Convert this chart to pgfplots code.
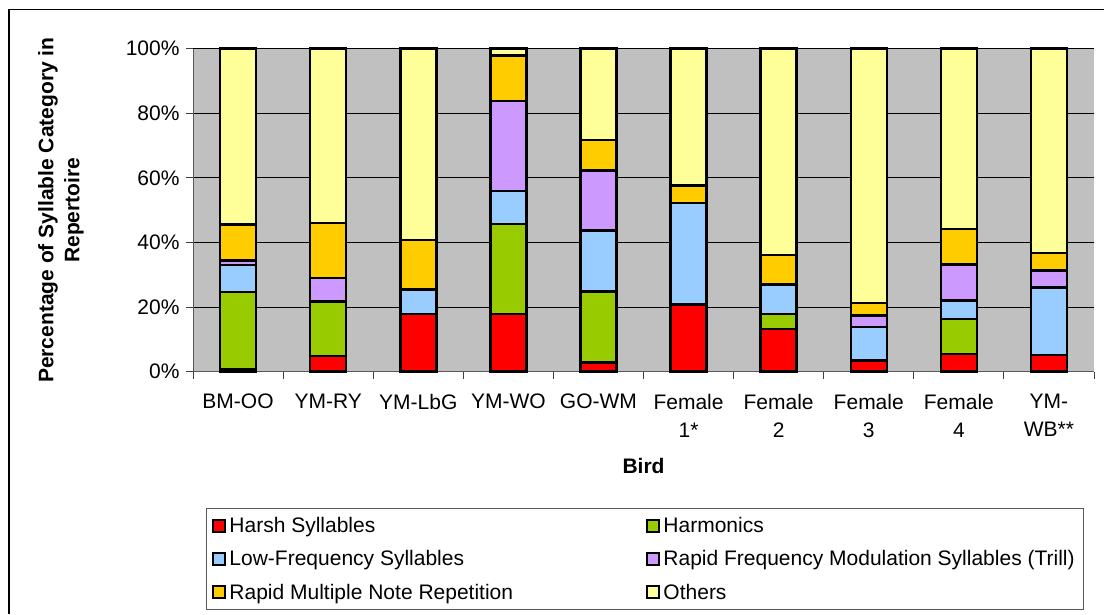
\documentclass[border=0pt]{standalone}
\usepackage{fontspec}
\setmainfont{Liberation Sans}
\usepackage{pgfplots}
\pgfplotsset{compat=1.18}
\usepackage{pgfplotstable}

\definecolor{harsh}{HTML}{FF0000}
\definecolor{harm}{HTML}{99CC00}
\definecolor{lowf}{HTML}{99CCFF}
\definecolor{trill}{HTML}{CC99FF}
\definecolor{rmnr}{HTML}{FFCC00}
\definecolor{others}{HTML}{FFFF99}
\definecolor{plotbg}{HTML}{C0C0C0}

% percentages
\pgfplotstableread{
bird red green blue purple orange others
0 0.8 23.8 8.5 1.3 11.2 54.4
1 4.8 17.0 0 7.2 17.1 53.9
2 17.9 0 7.5 0 15.4 59.2
3 17.9 27.9 10.1 27.9 14.1 2.1
4 2.9 21.9 18.9 18.6 9.5 28.2
5 20.8 0 31.5 0 5.3 42.4
6 13.2 4.7 9.1 0 9.2 63.8
7 3.4 0 10.5 3.5 3.8 78.8
8 5.5 10.8 5.7 11.2 11.0 55.8
9 5.2 0 20.9 5.2 5.5 63.2
}\birds

\begin{document}
\begin{tikzpicture}
\useasboundingbox (0,0) rectangle (1104pt,614pt);
\draw[black, line width=1.2pt] (9pt,0) -- (9pt,604.5pt) -- (1104pt,604.5pt);
\begin{axis}[
  at={(193pt,242.3pt)}, anchor=south west,
  scale only axis, width=901pt, height=323pt,
  ybar stacked, bar width=36pt,
  xmin=-0.5, xmax=9.5, ymin=0, ymax=100,
  clip=false,
  axis x line*=bottom, axis y line*=left,
  axis line style={gray!70!black, line width=1pt},
  axis background/.style={fill=plotbg},
  ymajorgrids, grid style={black, line width=0.9pt},
  ytick={0,20,...,100},
  xtick={-0.5,0.5,...,9.5},
  x tick label as interval,
  xticklabels={BM-OO, YM-RY, YM-LbG, YM-WO, GO-WM, {Female\\1*}, {Female\\2}, {Female\\3}, {Female\\4}, {YM-\\WB**}},
  tick align=outside, major tick length=7pt,
  tick style={gray!50!black, line width=0.9pt},
  /pgf/number format/assume math mode=true,
  yticklabel={\pgfmathprintnumber{\tick}\%},
  ticklabel style={font=\fontsize{21}{28}\selectfont},
  xticklabel style={align=center, anchor=north, yshift=-12pt},
  yticklabel style={xshift=-3pt},
  xlabel={Bird},
  ylabel={Percentage of Syllable Category in\\Repertoire},
  label style={font=\bfseries\fontsize{21}{26}\selectfont, align=center},
  xlabel style={at={(axis description cs:0.5,-0.292)}, anchor=center},
  ylabel style={at={(axis description cs:-0.1465,0.5)}, anchor=center, rotate=0},
  every axis plot/.append style={draw=black, line width=2.5pt},
  legend columns=2,
  legend cell align=left,
  legend image code/.code={\draw[#1, draw=black, line width=2pt] (0pt,-6pt) rectangle (12pt,6pt);},
  legend style={at={(axis description cs:0.0144,-0.422)}, anchor=north west,
    draw=gray!70!black, line width=1pt, fill=white,
    font=\fontsize{21}{24}\selectfont,
    column sep=0pt, row sep=10.5pt, inner sep=6pt,
    nodes={inner sep=3pt, anchor=west}},
]
\addplot[fill=harsh] table[x=bird, y=red] {\birds};
\addplot[fill=harm] table[x=bird, y=green] {\birds};
\addplot[fill=lowf] table[x=bird, y=blue] {\birds};
\addplot[fill=trill] table[x=bird, y=purple] {\birds};
\addplot[fill=rmnr] table[x=bird, y=orange] {\birds};
\addplot[fill=others] table[x=bird, y=others] {\birds};
\legend{\makebox[414pt][l]{Harsh Syllables}, Harmonics,
  \makebox[414pt][l]{Low-Frequency Syllables}, Rapid Frequency Modulation Syllables (Trill),
  \makebox[414pt][l]{Rapid Multiple Note Repetition}, Others}
\end{axis}
\end{tikzpicture}
\end{document}
